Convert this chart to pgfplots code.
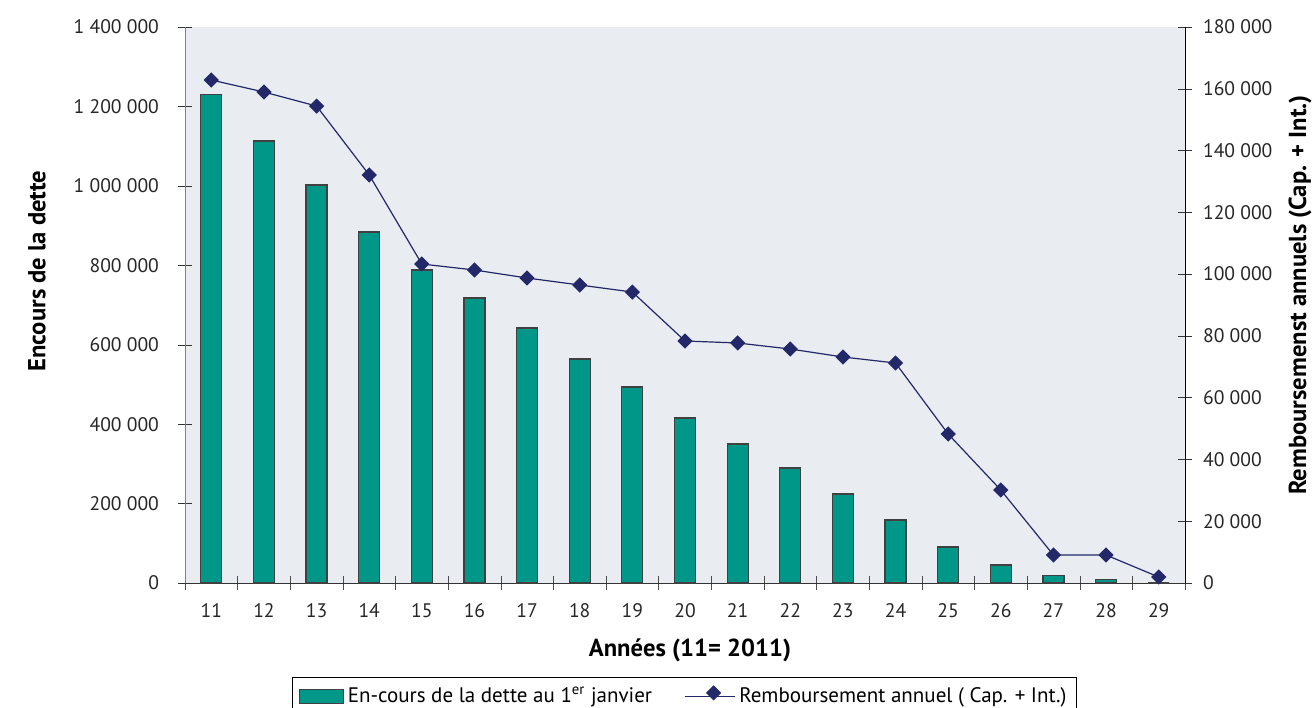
\documentclass[border=0pt]{standalone}
\usepackage{pgfplots}
\pgfplotsset{compat=1.18}
\usepackage{fontspec}
\setmainfont{PT Sans}
\definecolor{plotbg}{RGB}{233,236,240}
\definecolor{barteal}{RGB}{0,150,136}
\definecolor{navy}{RGB}{35,40,105}
\begin{document}
\begin{tikzpicture}
\begin{axis}[
  scale only axis, width=500pt, height=278pt,
  xmin=10.5, xmax=29.5, ymin=0, ymax=1400000,
  axis y line*=left, axis x line*=bottom,
  axis background/.style={fill=plotbg},
  y axis line style={draw=black!50},
  x axis line style={draw=black!80, -},
  scaled y ticks=false,
  ytick={0,200000,400000,600000,800000,1000000,1200000,1400000},
  yticklabels={0,200 000,400 000,600 000,800 000,1 000 000,1 200 000,1 400 000},
  xtick={11,...,29},
  xticklabels={11,12,13,14,15,16,17,18,19,20,21,22,23,24,25,26,27,28,29},
  minor xtick={10.5,11.5,...,29.5},
  major x tick style={draw=none},
  minor x tick style={draw=black!70},
  y tick style={draw=black!80},
  tick align=center,
  major tick length=7pt, minor tick length=7pt,
  ticklabel style={font=\fontsize{9.8}{11}\selectfont, text=black!85},
  xticklabel style={yshift=-3pt},
  yticklabel style={xshift=-6pt},
  xlabel={Années (11= 2011)},
  ylabel={Encours de la dette},
  label style={font=\fontsize{12.3}{14}\selectfont\bfseries},
  xlabel style={at={(axis description cs:0.505,-0.1205)}, anchor=center},
  ylabel style={at={(axis description cs:-0.148,0.561)}, anchor=center},
  clip=false,
]
\coordinate (sw) at (rel axis cs:0,0);
\addplot[ybar, bar width=10.5pt, fill=barteal, draw=black!75, line width=0.6pt] coordinates {
(11,1231000) (12,1113000) (13,1002000) (14,884000) (15,788000) (16,717600)
(17,642000) (18,564000) (19,493500) (20,415500) (21,350000) (22,289600)
(23,224000) (24,158600) (25,90600) (26,45300) (27,19400) (28,9300) (29,0)
};
\end{axis}
\begin{axis}[
  scale only axis, width=500pt, height=278pt,
  xmin=10.5, xmax=29.5, ymin=0, ymax=180000,
  axis y line*=right, axis x line=none,
  y axis line style={draw=black, -},
  scaled y ticks=false,
  ytick={0,20000,40000,60000,80000,100000,120000,140000,160000,180000},
  yticklabels={0,20 000,40 000,60 000,80 000,100 000,120 000,140 000,160 000,180 000},
  y tick style={draw=black!80},
  tick align=center,
  major tick length=7pt,
  ticklabel style={font=\fontsize{9.8}{11}\selectfont, text=black!85},
  yticklabel style={xshift=2pt},
  ylabel={Remboursemenst annuels (Cap. + Int.)},
  label style={font=\fontsize{12.3}{14}\selectfont\bfseries},
  ylabel style={at={(axis description cs:1.115,0.518)}, anchor=center},
  clip=false,
  legend columns=2,
  legend style={at={(axis description cs:0.4995,-0.169)}, anchor=north,
    draw=black, line width=0.5pt, fill=white,
    font=\fontsize{10.5}{12}\selectfont,
    inner xsep=3pt, inner ysep=3pt,
    /tikz/every even column/.append style={column sep=14pt}},
  legend cell align=left,
]
\addlegendimage{legend image code/.code={\draw[fill=barteal, draw=black!75, line width=0.6pt] (0pt,-3.5pt) rectangle (22pt,3.5pt);}}
\addlegendentry{En-cours de la dette au 1\textsuperscript{er} janvier}
\addplot[navy, line width=0.6pt, mark=square*, mark size=2.4pt, mark options={rotate=45, fill=navy, draw=navy},
  legend image code/.code={\draw[navy, line width=0.6pt] (0pt,0pt) -- (25pt,0pt);
    \node[draw=navy, fill=navy, rotate=45, minimum size=4.8pt, inner sep=0pt] at (12.5pt,0pt) {};}] coordinates {
(11,162840) (12,158950) (13,154400) (14,132100) (15,103270) (16,101330)
(17,98740) (18,96470) (19,94200) (20,78350) (21,77700) (22,75750)
(23,73170) (24,71220) (25,48240) (26,30100) (27,9060) (28,9060) (29,1940)
};
\addlegendentry{Remboursement annuel ( Cap. + Int.)\hspace{12pt}}
\end{axis}
\pgfresetboundingbox
\path (sw) ++(-92.5pt,-62pt) rectangle ++(656pt,353.5pt);
\end{tikzpicture}
\end{document}
